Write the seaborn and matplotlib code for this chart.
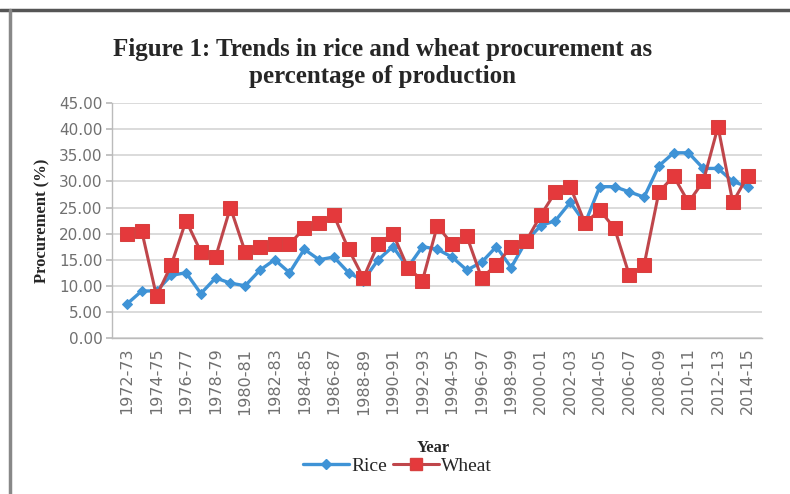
import matplotlib
matplotlib.use("Agg")
import matplotlib.pyplot as plt
import seaborn as sns
import pandas as pd
from matplotlib.lines import Line2D

# Datos
years = ['1972-73', '1973-74', '1974-75', '1975-76', '1976-77', '1977-78', '1978-79',
         '1979-80', '1980-81', '1981-82', '1982-83', '1983-84', '1984-85', '1985-86',
         '1986-87', '1987-88', '1988-89', '1989-90', '1990-91', '1991-92', '1992-93',
         '1993-94', '1994-95', '1995-96', '1996-97', '1997-98', '1998-99', '1999-00',
         '2000-01', '2001-02', '2002-03', '2003-04', '2004-05', '2005-06', '2006-07',
         '2007-08', '2008-09', '2009-10', '2010-11', '2011-12', '2012-13', '2013-14',
         '2014-15']

rice = [6.5, 9.0, 9.0, 12.0, 12.5, 8.5, 11.5, 10.5, 10.0, 13.0, 15.0, 12.5, 17.0, 15.0,
        15.5, 12.5, 11.0, 15.0, 17.5, 13.5, 17.5, 17.0, 15.5, 13.0, 14.5, 17.5, 13.5, 18.5,
        21.5, 22.5, 26.0, 22.0, 29.0, 29.0, 28.0, 27.0, 33.0, 35.5, 35.5, 32.5, 32.5, 30.0,
        29.0]

wheat = [20.0, 20.5, 8.0, 14.0, 22.5, 16.5, 15.5, 25.0, 16.5, 17.5, 18.0, 18.0, 21.0, 22.0,
         23.5, 17.0, 11.5, 18.0, 20.0, 13.5, 11.0, 21.5, 18.0, 19.5, 11.5, 14.0, 17.5, 18.5,
         23.5, 28.0, 29.0, 22.0, 24.5, 21.0, 12.0, 14.0, 28.0, 31.0, 26.0, 30.0, 40.5, 26.0,
         31.0]

yticks = [0, 5, 10, 15, 20, 25, 30, 35, 40, 45]

sns.set_theme(style="whitegrid")
plt.rcParams['font.family'] = ['Liberation Serif', 'DejaVu Serif']

rice_col = '#3f93d6'
wheat_line = '#bf464b'
wheat_fill = '#e4393c'

df = pd.DataFrame({'pos': range(len(years)), 'Rice': rice, 'Wheat': wheat})

fig = plt.figure(figsize=(7.9, 4.94), dpi=100)
ax = fig.add_axes([0.142, 0.316, 0.823, 0.475])

sns.lineplot(data=df, x='pos', y='Rice', ax=ax, color=rice_col, marker='D',
             markersize=5.5, markeredgecolor=rice_col, linewidth=2.4, sort=False)
sns.lineplot(data=df, x='pos', y='Wheat', ax=ax, color=wheat_line, marker='s',
             markersize=9.5, markerfacecolor=wheat_fill, markeredgecolor='#d8403f',
             linewidth=2.2, sort=False)

ax.set_xlim(-1, len(years))
ax.set_ylim(0, 45)
ax.set_yticks(yticks)
ax.set_yticklabels([f"{v:.2f}" for v in yticks], fontfamily='DejaVu Sans',
                   fontsize=11, color='#707070')
ax.set_xticks(range(0, len(years), 2))
ax.set_xticklabels(years[::2], rotation=90, fontfamily='DejaVu Sans',
                   fontsize=11.5, color='#707070')
ax.grid(axis='y', color='#d4d4d4', linewidth=1.2)
ax.grid(axis='x', visible=False)
ax.set_facecolor('white')
for side in ['top', 'right']:
    ax.spines[side].set_visible(False)
for side in ['left', 'bottom']:
    ax.spines[side].set_color('#bbbbbb')
    ax.spines[side].set_linewidth(1)
ax.tick_params(axis='x', length=4, color='#bbbbbb', pad=3)
ax.tick_params(axis='y', length=4, color='#bbbbbb', pad=3, left=True)

ax.set_xlabel('')
ax.set_ylabel('Procurement (%)', fontsize=12, fontweight='bold', labelpad=6)

fig.text(0.484, 0.872, 'Figure 1: Trends in rice and wheat procurement as\npercentage of production',
         ha='center', va='center', fontsize=18, fontweight='bold', linespacing=1.2)
fig.text(0.548, 0.093, 'Year', ha='center', va='center', fontsize=12, fontweight='bold')

handles = [Line2D([], [], color=rice_col, marker='D', markersize=5, linewidth=2.4),
           Line2D([], [], color=wheat_line, marker='s', markersize=8,
                  markerfacecolor=wheat_fill, markeredgecolor='#d8403f', linewidth=2.2)]
fig.legend(handles, ['Rice', 'Wheat'], loc='center', bbox_to_anchor=(0.503, 0.056),
           ncol=2, frameon=False, fontsize=14, handlelength=2.4, columnspacing=0.3,
           handletextpad=0.1, borderpad=0.2)

# marco exterior
fig.add_artist(Line2D([0, 1], [0.98, 0.98], color='#555555', linewidth=2.5,
                      transform=fig.transFigure))
fig.add_artist(Line2D([0.013, 0.013], [0, 0.98], color='#888888', linewidth=2.5,
                      transform=fig.transFigure))

fig.savefig('out.png', dpi=100)
